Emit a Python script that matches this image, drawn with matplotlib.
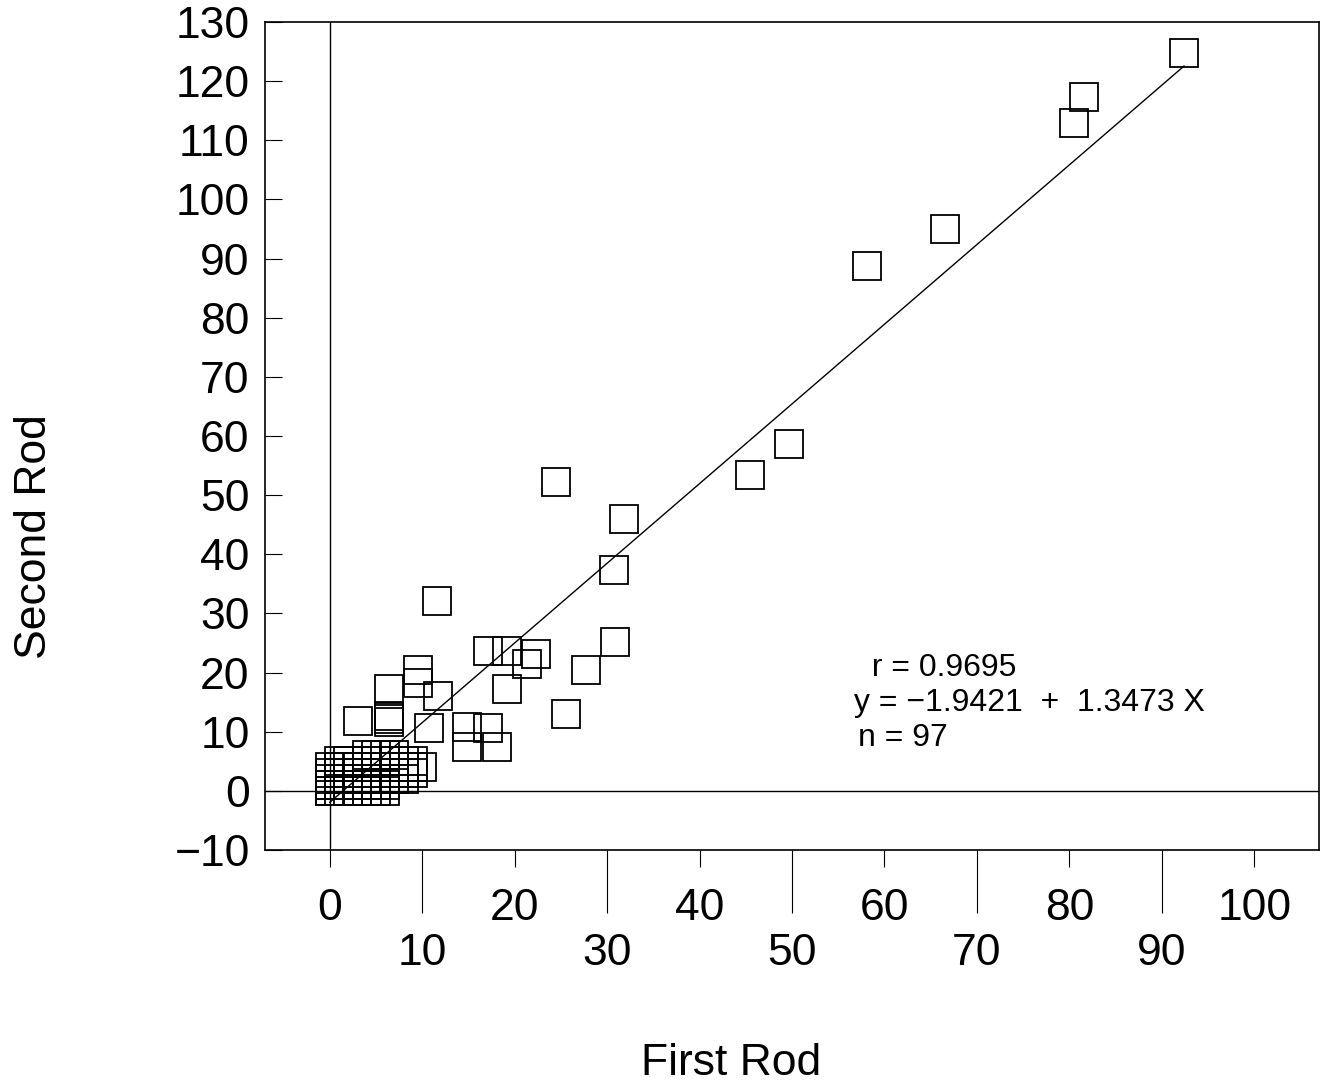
import numpy as np
import matplotlib.pyplot as plt

# Scatter of second vs first rod reading, with fitted line

plt.rcParams['font.family'] = ['Liberation Sans', 'DejaVu Sans']

# Points (outer points)
first_outer = [92.4, 81.6, 80.5, 66.6, 58.1, 49.7, 45.5, 31.8, 24.5, 30.8,
               30.9, 27.7, 25.6, 11.6,
               17.1, 19.2, 22.3, 21.3, 19.2, 9.5, 9.5, 11.7, 10.7, 14.9,
               17.1, 14.9, 18.1,
               6.4, 6.4, 6.4, 6.4, 3.1]
second_outer = [124.8, 117.3, 113.0, 95.0, 88.8, 58.7, 53.4, 45.9, 52.3, 37.4,
                25.1, 20.4, 13.0, 32.1,
                23.7, 23.7, 23.2, 21.5, 17.2, 20.4, 18.3, 16.1, 10.7, 10.8,
                10.7, 7.4, 7.4,
                17.3, 12.7, 12.2, 11.6, 11.8]

# Dense cluster near the origin (heavily overlapping squares)
first_cluster = [0, 0, 0, 0, 0,
                 1, 1, 1, 1, 1, 1,
                 2, 2, 2, 2, 2,
                 3, 3, 3, 3, 3,
                 4, 4, 4, 4, 4, 4, 4,
                 5, 5, 5, 5, 5, 5,
                 6, 6, 6, 6, 6, 6,
                 7, 7, 7, 7, 7,
                 8, 8, 8, 8,
                 9, 9, 9,
                 10,
                 0, 0, 1, 1, 2, 2, 3, 3, 4, 4, 5, 6]
second_cluster = [0, 1, 2, 3, 4,
                  0, 1, 2, 3, 4, 5,
                  0, 1, 2, 3, 5,
                  0, 1, 2, 3, 4,
                  0, 1, 2, 3, 4, 5, 6,
                  0, 1, 2, 3, 5, 6,
                  0, 1, 2, 3, 4, 6,
                  2, 3, 4, 5, 6,
                  2, 3, 4, 5,
                  3, 4, 5,
                  4,
                  0, 1, 1, 2, 1, 2, 1, 2, 2, 3, 2, 3]

first_rod = np.array(first_outer + first_cluster, dtype=float)
second_rod = np.array(second_outer + second_cluster, dtype=float)

intercept = -1.9421
slope = 1.3473
stats_lines = [' r = 0.9695', 'y = \u22121.9421  +  1.3473 X', 'n = 97']

x_major = [0, 20, 40, 60, 80, 100]
x_minor = [10, 30, 50, 70, 90]
y_ticks = list(range(-10, 131, 10))

fig = plt.figure(figsize=(13.22, 10.83), dpi=100)
fig.patch.set_facecolor('white')
ax = fig.add_axes([265 / 1322, 1 - 850 / 1083, 1054 / 1322, 828 / 1083])

ax.axvline(0, color='black', lw=1.0, zorder=1)
ax.axhline(0, color='black', lw=1.0, zorder=1)

ax.plot(first_rod, second_rod, 's', ms=20, mfc='none', mec='black',
        mew=1.3, zorder=3)

xs = np.array([first_rod.min(), first_rod.max()])
ax.plot(xs, intercept + slope * xs, color='black', lw=1.0, zorder=2)

ax.set_xlim(-7.0, 107.0)
ax.set_ylim(-10, 130)

ax.set_xticks(x_major, [str(v) for v in x_major])
ax.set_xticks(x_minor, [str(v) for v in x_minor], minor=True)
ax.set_yticks(y_ticks, [str(v).replace('-', '\u2212') for v in y_ticks])

ax.tick_params(axis='x', which='major', direction='out', length=12.2,
               width=0.8, pad=15, labelsize=32)
ax.tick_params(axis='x', which='minor', direction='out', length=45.4,
               width=0.8, pad=14.4, labelsize=32)
ax.tick_params(axis='y', direction='in', length=12.2, width=0.8,
               pad=11, labelsize=32)

for sp in ax.spines.values():
    sp.set_linewidth(1.2)

ax.text(0.567, 0.2198, stats_lines[0], transform=ax.transAxes,
        fontsize=23, va='center', ha='left')
ax.text(0.559, 0.1775, stats_lines[1], transform=ax.transAxes,
        fontsize=23, va='center', ha='left')
ax.text(0.5625, 0.1353, stats_lines[2], transform=ax.transAxes,
        fontsize=23, va='center', ha='left')

fig.text(731 / 1322, 1 - 1075 / 1083, 'First Rod', fontsize=32,
         ha='center', va='baseline')
fig.text(46 / 1322, 1 - 537 / 1083, 'Second Rod', fontsize=32,
         rotation=90, rotation_mode='anchor', ha='center', va='baseline')

plt.savefig('out.png', dpi=100, facecolor='white')
